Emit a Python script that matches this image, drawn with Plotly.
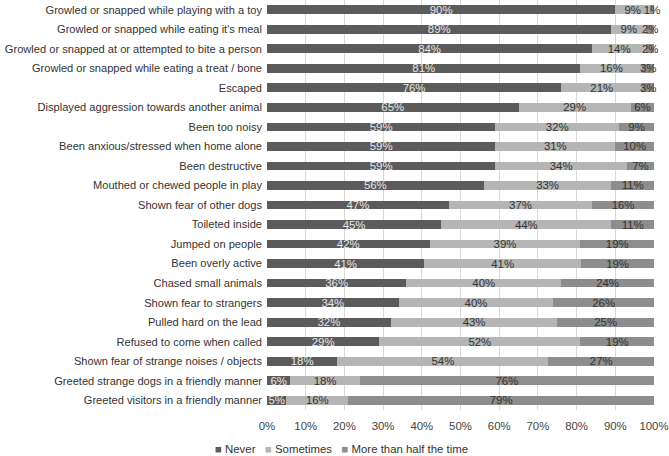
import plotly.graph_objects as go

categories = [
    "Growled or snapped while playing with a toy",
    "Growled or snapped while eating it's meal",
    "Growled or snapped at or attempted to bite a person",
    "Growled or snapped while eating a treat / bone",
    "Escaped",
    "Displayed aggression towards another animal",
    "Been too noisy",
    "Been anxious/stressed when home alone",
    "Been destructive",
    "Mouthed or chewed people in play",
    "Shown fear of other dogs",
    "Toileted inside",
    "Jumped on people",
    "Been overly active",
    "Chased small animals",
    "Shown fear to strangers",
    "Pulled hard on the lead",
    "Refused to come when called",
    "Shown fear of strange noises / objects",
    "Greeted strange dogs in a friendly manner",
    "Greeted visitors in a friendly manner",
]
never = [90, 89, 84, 81, 76, 65, 59, 59, 59, 56, 47, 45, 42, 41, 36, 34, 32, 29, 18, 6, 5]
sometimes = [9, 9, 14, 16, 21, 29, 32, 31, 34, 33, 37, 44, 39, 41, 40, 40, 43, 52, 54, 18, 16]
more_half = [1, 2, 2, 3, 3, 6, 9, 10, 7, 11, 16, 11, 19, 19, 24, 26, 25, 19, 27, 76, 79]

series = [
    ("Never", never, "#5b5b5b", "#e6e6e6"),
    ("Sometimes", sometimes, "#b5b5b5", "#333333"),
    ("More than half the time", more_half, "#8d8d8d", "#333333"),
]

FONT = "Liberation Sans, Arial, sans-serif"

fig = go.Figure()
for name, vals, color, tcolor in series:
    fig.add_trace(go.Bar(
        y=categories, x=vals, name=name, orientation="h",
        marker=dict(color=color, line=dict(width=0)),
        text=[f"{v}%" for v in vals], textposition="inside",
        insidetextanchor="middle", constraintext="none", textangle=0,
        cliponaxis=False, hoverinfo="skip",
        textfont=dict(color=tcolor, size=11.4, family=FONT),
    ))

# legend drawn as a compact text row (small square markers as in the reference)
legend_text = "&nbsp;&nbsp;&nbsp;".join(
    f"<span style='color:{c}'>■</span> {n}" for n, _, c, _ in series
)
fig.add_annotation(
    text=legend_text, xref="paper", yref="paper",
    x=(341 - 267) / (654 - 267), xanchor="center",
    y=-(449 - 410) / 410, yanchor="middle",
    showarrow=False, font=dict(size=11.4, color="#333333", family=FONT),
)

fig.update_layout(
    barmode="stack", barnorm="percent", bargap=0.55,
    width=669, height=456,
    margin=dict(l=267, r=15, t=0, b=46, autoexpand=False),
    plot_bgcolor="white", paper_bgcolor="white",
    font=dict(family=FONT, size=11.4, color="#333333"),
    uniformtext=dict(minsize=11.4, mode="show"),
    xaxis=dict(range=[0, 100], dtick=10, ticksuffix="%", showgrid=True,
               gridcolor="#d9d9d9", gridwidth=1, zeroline=False, showline=False,
               ticklabelstandoff=8,
               tickfont=dict(size=11.4, color="#444444"), automargin=False),
    yaxis=dict(autorange="reversed", showgrid=False, ticks="", ticklen=0,
               ticklabelstandoff=4,
               automargin=False, tickfont=dict(size=11.1, color="#333333")),
    showlegend=False,
)

fig.write_html("out.html", config={"displayModeBar": False},
               post_script="document.body.style.margin='0';document.body.style.padding='0';")
